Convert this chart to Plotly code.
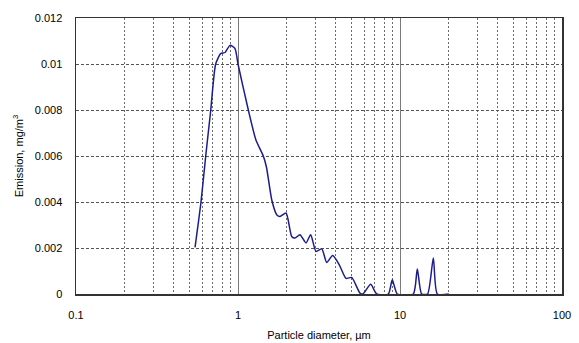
import plotly.graph_objects as go

# Particle diameter (µm) and emission (mg/m³)
diameter = [0.543, 0.591, 0.632, 0.679, 0.728, 0.782, 0.832, 0.892, 0.958, 1.0,
            1.158, 1.29, 1.433, 1.50, 1.615, 1.733, 1.817, 1.98, 2.145, 2.248,
            2.413, 2.63, 2.81, 3.03, 3.29, 3.53, 3.84, 4.22, 4.64, 5.03,
            5.66, 5.9, 6.59, 7.18, 8.47, 8.96, 9.63, 12.08, 12.79, 13.6,
            14.8, 16.06, 17.0, 20.0]
emission = [0.00203, 0.0040, 0.0060, 0.0080, 0.0100, 0.01045, 0.0105, 0.01081, 0.01067, 0.0100,
            0.0080, 0.0067, 0.0060, 0.0055, 0.0041, 0.00345, 0.00337, 0.00352, 0.0025, 0.00243,
            0.00258, 0.00222, 0.00258, 0.00185, 0.00196, 0.00137, 0.00167, 0.00127, 0.00068, 0.00072,
            0.00004, 0.0, 0.00042, 0.0, 0.0, 0.00062, 0.0, 0.0, 0.00109, 0.0,
            0.0, 0.00157, 0.0, 0.0]

x_tickvals = [0.1, 1, 10, 100]
x_ticktext = ["0.1", "1", "10", "100"]
y_tickvals = [0, 0.002, 0.004, 0.006, 0.008, 0.01, 0.012]
y_ticktext = ["0", "0.002", "0.004", "0.006", "0.008", "0.01", "0.012"]

fig = go.Figure()
fig.add_trace(go.Scatter(
    x=diameter, y=emission, mode="lines",
    line=dict(color="#1c1c8e", width=1.5, shape="spline", smoothing=0.6),
    showlegend=False, hoverinfo="skip",
))

font = dict(family="Liberation Sans, Arial, sans-serif", size=11, color="#000000")

fig.update_layout(
    width=579, height=343,
    margin=dict(l=76, r=17, t=18, b=49),
    paper_bgcolor="white", plot_bgcolor="white",
    font=font, hovermode=False,
    xaxis=dict(
        type="log", range=[-1, 2], automargin=False,
        tickvals=x_tickvals, ticktext=x_ticktext,
        showgrid=True, gridcolor="#7a7a7a", gridwidth=1,
        minor=dict(showgrid=True, gridcolor="#6a6a6a", griddash="2px,2px",
                   gridwidth=1, dtick="D1", ticks=""),
        showline=True, linecolor="#333333", linewidth=1.5, mirror=True,
        ticks="", ticklabelstandoff=10, tickfont=font,
        title=dict(text="Particle diameter, µm", font=font, standoff=11),
        zeroline=False,
    ),
    yaxis=dict(
        range=[0, 0.012], automargin=False,
        tickvals=y_tickvals, ticktext=y_ticktext,
        showgrid=True, gridcolor="#555555", griddash="3px,2px", gridwidth=1,
        showline=True, linecolor="#333333", linewidth=1.5, mirror=True,
        ticks="", ticklabelstandoff=10, tickfont=font,
        title=dict(text="Emission, mg/m<sup>3</sup>", font=font, standoff=9),
        zeroline=False,
    ),
)

fig.write_html("out.html", config={"displayModeBar": False, "staticPlot": True},
               post_script="document.body.style.margin='0';")
